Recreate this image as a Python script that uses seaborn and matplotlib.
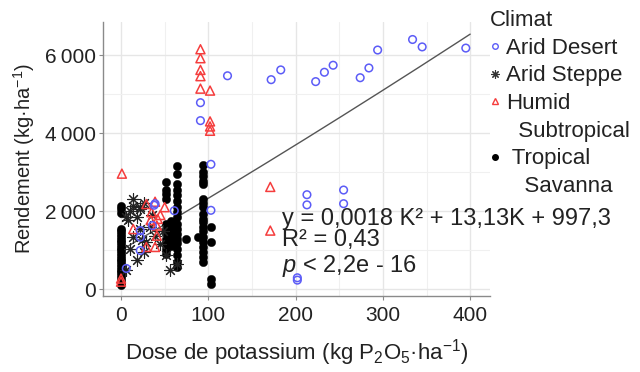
import numpy as np
import pandas as pd
import matplotlib
matplotlib.use("Agg")
import matplotlib.pyplot as plt
import seaborn as sns
from matplotlib.lines import Line2D

# --- data ---
desert_x = [91, 91, 103, 103, 122, 172, 183, 202, 202, 213, 213, 223, 233, 243, 255, 255,
            274, 284, 294, 334, 345, 395, 6, 22, 22, 22, 36, 38, 39, 61]
desert_y = [4780, 4320, 3200, 2020, 5470, 5370, 5620, 290, 230, 2420, 2160, 5320, 5560, 5740,
            2540, 2190, 5420, 5670, 6130, 6400, 6210, 6180, 530, 1500, 1330, 990, 1630, 2150,
            2190, 2010]

steppe_x = [14, 26, 10, 8, 18, 22, 14, 10, 26, 18, 6, 29, 24, 39, 56, 52, 22, 33, 64, 14,
            22, 6, 45, 35, 48]
steppe_y = [2310, 2220, 2010, 1760, 1840, 1540, 1330, 1040, 950, 740, 480, 1210, 1250, 1370,
            480, 870, 2100, 1590, 650, 2140, 2060, 1840, 1150, 1900, 1500]

humid_x = [91, 91, 91, 91, 91, 102, 102, 102, 102, 171, 171, 1, 14, 29, 39, 35, 34, 42, 41,
           41, 39, 29, 50, 0, 0, 45]
humid_y = [6150, 5920, 5620, 5460, 5140, 5090, 4300, 4170, 4060, 2620, 1500, 2960, 1540, 2180,
           2240, 1970, 1770, 1800, 1630, 1370, 1080, 1080, 2100, 190, 270, 1900]

savanna_x = ([0] * 25 + [64] * 18 + [52] * 11 + [57] * 7 + [74, 88] + [94] * 19
             + [103, 103, 103, 103])
savanna_y = ([2140, 2060, 1960, 1550, 1480, 1410, 1340, 1270, 1200, 1130, 1060, 990, 920, 850,
              780, 710, 640, 570, 500, 430, 360, 290, 220, 150, 100]
             + [3160, 2950, 2700, 2530, 2400, 2270, 2100, 1970, 1840, 1680, 1550, 1420, 1290,
                1170, 1040, 870, 700, 570]
             + [2740, 2530, 2440, 2310, 1680, 1550, 1420, 1290, 1170, 1040, 910]
             + [1750, 1600, 1500, 1400, 1300, 1200, 1100]
             + [1290, 1340]
             + [3170, 2990, 2900, 2770, 2690, 2310, 2220, 2100, 1930, 1800, 1720, 1590, 1500,
                1330, 1210, 1080, 950, 820, 700]
             + [1590, 1210, 270, 140])

climates = ["Arid Desert", "Arid Steppe", "Humid Subtropical", "Tropical Savanna"]
legend_lines = ["Arid Desert", "Arid Steppe", "Humid", "  Subtropical", " Tropical", "   Savanna"]
coef = [997.3, 13.13, 0.0018]   # y = a + bK + cK^2
eq_lines = ["y = 0,0018 K\u00b2 + 13,13K + 997,3", "R\u00b2 = 0,43", r"$p$ < 2,2e - 16"]
y_ticks = [0, 2000, 4000, 6000]
y_ticklabels = ["0", "2\u2009000", "4\u2009000", "6\u2009000"]

df = pd.concat([
    pd.DataFrame({"K": desert_x, "Y": desert_y, "Climat": climates[0]}),
    pd.DataFrame({"K": steppe_x, "Y": steppe_y, "Climat": climates[1]}),
    pd.DataFrame({"K": humid_x, "Y": humid_y, "Climat": climates[2]}),
    pd.DataFrame({"K": savanna_x, "Y": savanna_y, "Climat": climates[3]}),
])

sns.set_theme(style="whitegrid")
plt.rcParams["font.family"] = ["Liberation Sans", "DejaVu Sans"]
plt.rcParams["mathtext.fontset"] = "custom"
plt.rcParams["mathtext.rm"] = "Liberation Sans"
plt.rcParams["mathtext.it"] = "Liberation Sans:italic"

fig = plt.figure(figsize=(6.4, 3.72), dpi=100)
ax = fig.add_axes([0.161, 0.204, 0.605, 0.737])

blue = "#5c5cf7"
red = "#f53d3d"
txt_col = "#222222"

# regression curve
kk = np.linspace(0, 400, 200)
ax.plot(kk, coef[0] + coef[1] * kk + coef[2] * kk ** 2, color="#555555", lw=1.0, zorder=1)

sub = df[df.Climat == climates[3]]
sns.scatterplot(data=sub, x="K", y="Y", ax=ax, marker="o", s=36, color="black",
                edgecolor="black", linewidth=0.3, zorder=3)
sub = df[df.Climat == climates[1]]
sns.scatterplot(data=sub, x="K", y="Y", ax=ax, marker=(8, 2, 0), s=70, color="#222222",
                linewidth=0.8, zorder=4)
sub = df[df.Climat == climates[2]]
sns.scatterplot(data=sub, x="K", y="Y", ax=ax, marker="^", s=42, facecolor="none",
                edgecolor=red, linewidth=1.1, zorder=5)
sub = df[df.Climat == climates[0]]
sns.scatterplot(data=sub, x="K", y="Y", ax=ax, marker="o", s=30, facecolor="none",
                edgecolor=blue, linewidth=1.1, zorder=5)

ax.set_xlim(-20.6, 423)
ax.set_ylim(-180, 6850)
ax.set_xticks([0, 100, 200, 300, 400])
ax.set_xticks([50, 150, 250, 350], minor=True)
ax.set_yticks(y_ticks)
ax.set_yticks([1000, 3000, 5000], minor=True)
ax.set_yticklabels(y_ticklabels)
ax.grid(which="major", color="#e6e6e6", lw=1.0)
ax.grid(which="minor", color="#f0f0f0", lw=0.8)
for s in ["top", "right"]:
    ax.spines[s].set_visible(False)
for s in ["left", "bottom"]:
    ax.spines[s].set_color("#8a8a8a")
    ax.spines[s].set_linewidth(1.0)
ax.tick_params(axis="both", which="major", labelsize=15, length=3, width=0.8,
               color="#8a8a8a", labelcolor=txt_col, left=True, bottom=True)
ax.tick_params(axis="x", which="major", pad=4)
ax.tick_params(axis="y", which="major", pad=2)
ax.tick_params(axis="both", which="minor", length=0)
ax.set_xlabel("Dose de potassium (kg P$_2$O$_5$\u00b7ha$^{-1}$)", fontsize=16,
              color=txt_col, labelpad=9)
ax.set_ylabel("Rendement (kg\u00b7ha$^{-1}$)", fontsize=14.5, color=txt_col, labelpad=6)

for txt, yv in zip(eq_lines, [1810, 1250, 590]):
    ax.text(184, yv, txt, fontsize=17, color=txt_col, va="center", ha="left", zorder=6)

blank = Line2D([], [], ls="none")
handles = [
    Line2D([], [], ls="none", marker="o", ms=4, mfc="none", mec=blue, mew=1.0),
    Line2D([], [], ls="none", marker=(8, 2, 0), ms=6, color="#333333", mew=0.8),
    Line2D([], [], ls="none", marker="^", ms=5, mfc="none", mec=red, mew=1.0),
    blank,
    Line2D([], [], ls="none", marker="o", ms=4, color="black"),
    blank,
]
leg = fig.legend(handles, legend_lines, title="Climat", loc="upper left",
                 bbox_to_anchor=(0.758, 0.985), frameon=False, fontsize=16,
                 title_fontsize=16, handlelength=0.5, handletextpad=0.25,
                 labelspacing=0.3, borderaxespad=0, borderpad=0.2)
leg._legend_box.align = "left"
for t in leg.get_texts():
    t.set_color(txt_col)
leg.get_title().set_color(txt_col)

fig.savefig("out.png", dpi=100)
